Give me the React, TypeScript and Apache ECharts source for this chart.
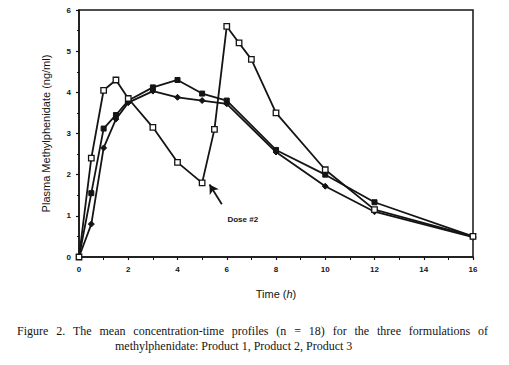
import React, { useEffect, useRef } from "react";
import * as echarts from "echarts";

const productA: [number, number][] = [
  [0, 0], [0.5, 2.4], [1, 4.05], [1.5, 4.3], [2, 3.85], [3, 3.15], [4, 2.3], [5, 1.8],
  [5.5, 3.1], [6, 5.6], [6.5, 5.2], [7, 4.8], [8, 3.5], [10, 2.12], [12, 1.15], [16, 0.5],
];
const productB: [number, number][] = [
  [0, 0], [0.5, 1.55], [1, 3.12], [1.5, 3.45], [2, 3.8], [3, 4.12], [4, 4.3], [5, 3.97],
  [6, 3.8], [8, 2.6], [10, 2.0], [12, 1.33], [16, 0.5],
];
const productC: [number, number][] = [
  [0, 0], [0.5, 0.8], [1, 2.65], [1.5, 3.35], [2, 3.75], [3, 4.03], [4, 3.88], [5, 3.8],
  [6, 3.72], [8, 2.55], [10, 1.72], [12, 1.1], [16, 0.48],
];
const arrowFrom: [number, number] = [5.8, 1.28];
const arrowTo: [number, number] = [5.3, 1.76];
const doseLabelAt: [number, number] = [6.65, 0.9];

const captionLine1 =
  "Figure 2. The mean concentration-time profiles (n = 18) for the three formulations of";
const captionLine2 = "methylphenidate: Product 1, Product 2, Product 3";

const CAPTION_FONT = "12px 'Liberation Serif'";

function justifiedWords(text: string, left: number, right: number, top: number, ink: string) {
  const words = text.split(" ");
  const ctx = document.createElement("canvas").getContext("2d");
  let widths = words.map((w) => w.length * 5);
  if (ctx) {
    ctx.font = CAPTION_FONT;
    widths = words.map((w) => ctx.measureText(w).width);
  }
  const total = widths.reduce((a, b) => a + b, 0);
  const gap = (right - left - total) / (words.length - 1);
  let x = left;
  return words.map((w, i) => {
    const el = {
      type: "text",
      x,
      y: top,
      style: { text: w, fill: ink, font: CAPTION_FONT },
    };
    x += widths[i] + gap;
    return el;
  });
}

export default function App() {
  const ref = useRef<HTMLDivElement>(null);
  useEffect(() => {
    if (!ref.current) return;
    const chart = echarts.init(ref.current, undefined, { renderer: "svg" });
    const ink = "#141414";
    const sans = "Liberation Sans";
    const lineStyle = { color: ink, width: 1.8 };
    chart.setOption({
      animation: false,
      backgroundColor: "#fff",
      grid: {
        left: 79, right: 36, top: 10, bottom: 108,
        show: true, borderColor: ink, borderWidth: 1.5, backgroundColor: "transparent",
      },
      xAxis: {
        type: "value", min: 0, max: 16, interval: 2,
        axisLine: { show: true, lineStyle: { color: ink, width: 1.5 } },
        axisTick: { show: true, length: 3, lineStyle: { color: ink, width: 1.2 } },
        minorTick: { show: true, splitNumber: 2, length: 3, lineStyle: { color: ink, width: 1 } },
        splitLine: { show: false },
        axisLabel: { color: ink, fontFamily: sans, fontSize: 8, fontWeight: "bold", margin: 8 },
        name: "Time ({i|h})",
        nameLocation: "middle",
        nameGap: 31,
        nameTextStyle: {
          color: ink, fontFamily: sans, fontSize: 11,
          rich: { i: { fontStyle: "italic", fontFamily: sans, fontSize: 11, color: ink } },
        },
      },
      yAxis: {
        type: "value", min: 0, max: 6, interval: 1,
        axisLine: { show: true, lineStyle: { color: ink, width: 1.5 } },
        axisTick: { show: true, length: 3, lineStyle: { color: ink, width: 1.2 } },
        minorTick: { show: true, splitNumber: 2, length: 2, lineStyle: { color: ink, width: 1 } },
        splitLine: { show: false },
        axisLabel: { color: ink, fontFamily: sans, fontSize: 8, fontWeight: "bold", margin: 8 },
        name: "Plasma Methylphenidate (ng/ml)",
        nameLocation: "middle",
        nameGap: 28,
        nameTextStyle: { color: ink, fontFamily: sans, fontSize: 11 },
      },
      series: [
        {
          name: "Product 1", type: "line", data: productA,
          symbol: "rect", symbolSize: 5.5, showSymbol: true,
          lineStyle, itemStyle: { color: "#fff", borderColor: ink, borderWidth: 1.3 },
          z: 3,
          markLine: {
            silent: true, symbol: ["none", "arrow"], symbolSize: [8, 9],
            lineStyle: { color: ink, width: 1.8, type: "solid" },
            label: { show: false },
            data: [[{ coord: arrowFrom }, { coord: arrowTo }]],
          },
          markPoint: {
            symbol: "circle", symbolSize: 0,
            label: {
              show: true, formatter: "Dose #2", color: ink, fontFamily: sans,
              fontSize: 8, fontWeight: "bold",
            },
            data: [{ coord: doseLabelAt }],
          },
        },
        {
          name: "Product 2", type: "line", data: productB,
          symbol: "rect", symbolSize: 5, showSymbol: true,
          lineStyle, itemStyle: { color: ink, borderColor: ink },
          z: 2,
        },
        {
          name: "Product 3", type: "line", data: productC,
          symbol: "diamond", symbolSize: 6, showSymbol: true,
          lineStyle, itemStyle: { color: ink, borderColor: ink },
          z: 2,
        },
      ],
      graphic: [
        ...justifiedWords(captionLine1, 17, 488, 325, ink),
        {
          type: "text", left: 115, top: 340,
          style: { text: captionLine2, fill: ink, font: CAPTION_FONT },
        },
      ],
    });
    return () => chart.dispose();
  }, []);
  return <div ref={ref} style={{ width: 509, height: 365, position: "absolute", left: 0, top: 0 }} />;
}
